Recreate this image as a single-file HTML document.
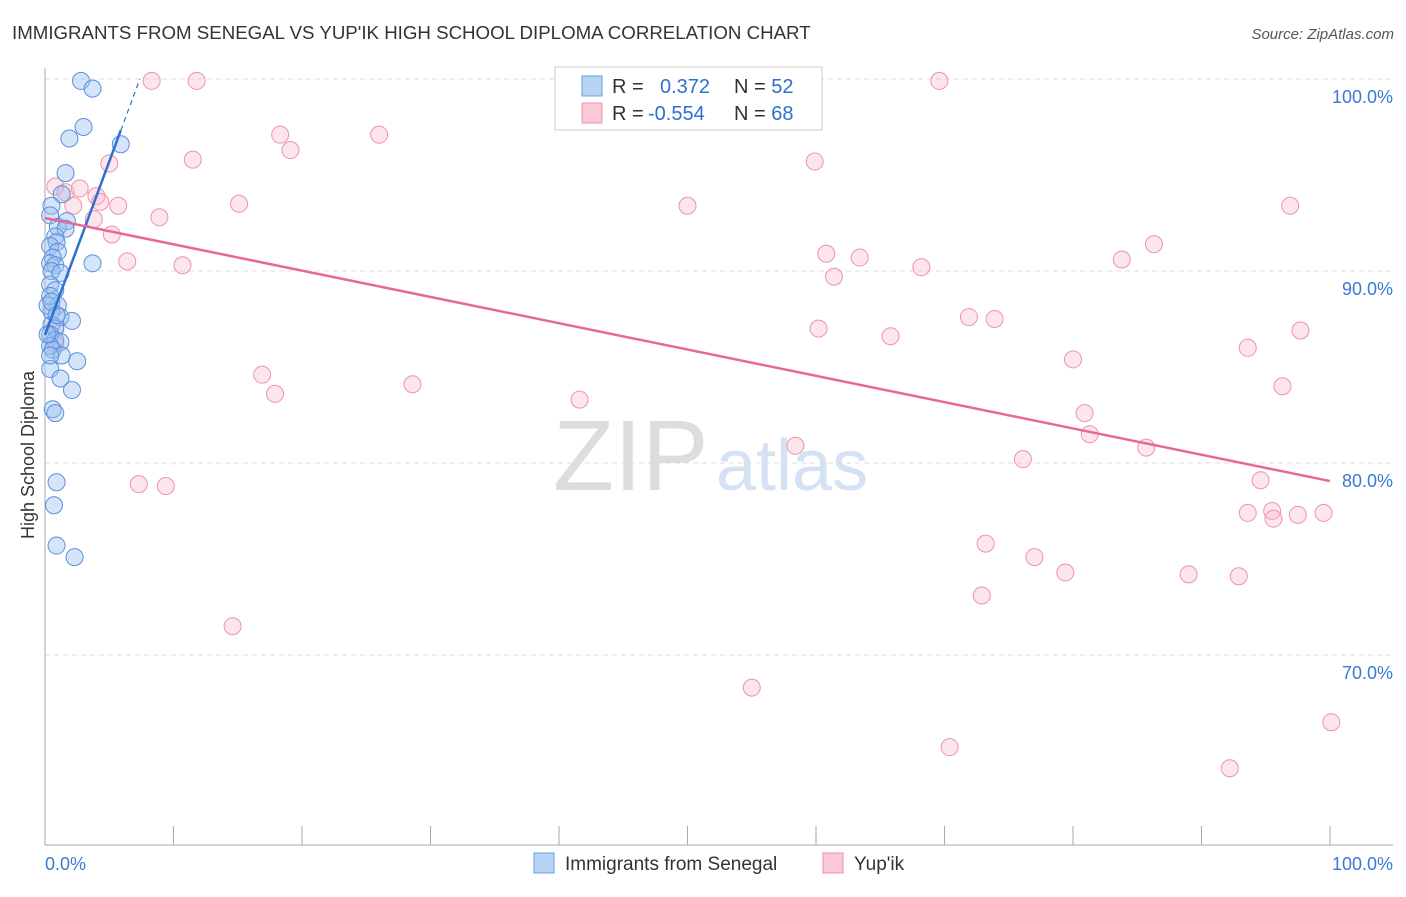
<!DOCTYPE html>
<html><head><meta charset="utf-8"><style>
body{margin:0;background:#fff;font-family:"Liberation Sans",sans-serif;}
svg text{font-family:"Liberation Sans",sans-serif;}
</style></head><body>
<svg width="1406" height="892" xmlns="http://www.w3.org/2000/svg" id="chart">
<text x="12" y="39" font-size="18.7" fill="#333">IMMIGRANTS FROM SENEGAL VS YUP'IK HIGH SCHOOL DIPLOMA CORRELATION CHART</text>
<text x="1394" y="39" font-size="15" fill="#555" text-anchor="end" font-style="italic">Source: ZipAtlas.com</text>
<text x="553" y="490" font-size="100" fill="#ddd" font-family="Liberation Serif">ZIP</text>
<text x="716" y="490" font-size="72" fill="#d4e2f4">atlas</text>
<text transform="translate(34,455) rotate(-90)" font-size="18" fill="#333" text-anchor="middle">High School Diploma</text>
<g id="grid"></g><g id="pts"></g><g id="lines"></g>
<g>
<rect x="555" y="67" width="267" height="63" fill="#fff" stroke="#ccc"/>
<rect x="582" y="76" width="20" height="20" fill="#b8d3f5" stroke="#6a9de0"/>
<rect x="582" y="103" width="20" height="20" fill="#fbc8d6" stroke="#ee93ad"/>
<text x="612" y="93" font-size="20" fill="#333">R = <tspan fill="#2f6fd1" x="660">0.372</tspan><tspan x="734" fill="#333">N = </tspan><tspan fill="#2f6fd1">52</tspan></text>
<text x="612" y="120" font-size="20" fill="#333">R = <tspan fill="#2f6fd1" x="648">-0.554</tspan><tspan x="734" fill="#333">N = </tspan><tspan fill="#2f6fd1">68</tspan></text>
</g>
<g>
<rect x="534" y="853" width="20" height="20" fill="#b8d3f5" stroke="#6a9de0"/>
<text x="565" y="870" font-size="19" fill="#333">Immigrants from Senegal</text>
<rect x="823" y="853" width="20" height="20" fill="#fbc8d6" stroke="#ee93ad"/>
<text x="854" y="870" font-size="19" fill="#333">Yup'ik</text>
</g>
</svg>
<script>
const xTicks=[0,10,20,30,40,50,60,70,80,90,100];
const yTicks=[100,90,80,70];
const yTickLabels=["100.0%","90.0%","80.0%","70.0%"];
const senegalX=[2.8,3.7,3.0,1.9,5.9,1.6,1.3,0.5,0.4,1.7,1.0,1.6,0.8,0.9,0.4,1.0,0.6,0.4,0.8,0.5,1.2,3.7,0.4,0.8,1.0,0.5,1.2,2.1,0.5,0.8,0.4,0.8,1.2,0.4,0.6,1.3,2.5,0.4,1.2,2.1,0.6,0.8,0.9,0.7,0.9,2.3,0.4,0.2,0.4,0.2,0.5,0.9];
const senegalY=[99.9,99.5,97.5,96.9,96.6,95.1,94.0,93.4,92.9,92.6,92.3,92.2,91.8,91.5,91.3,91.0,90.7,90.4,90.3,90.0,89.9,90.4,89.3,89.0,88.2,87.9,87.6,87.4,87.2,87.0,86.7,86.4,86.3,86.1,85.9,85.6,85.3,84.9,84.4,83.8,82.8,82.6,79.0,77.8,75.7,75.1,88.7,88.2,85.6,86.7,88.4,87.7];
const yupikX=[8.3,11.8,69.6,5.0,11.5,18.3,19.1,26.0,59.9,0.8,1.6,2.7,4.0,2.2,4.3,5.7,3.8,5.2,8.9,15.1,50.0,96.9,6.4,10.7,60.8,61.4,63.4,68.2,83.8,86.3,60.2,65.8,71.9,73.9,97.7,93.6,80.0,16.9,17.9,28.6,41.6,96.3,80.9,81.3,85.7,58.4,76.1,94.6,7.3,9.4,93.6,95.5,95.6,97.5,99.5,73.2,77.0,79.4,89.0,92.9,72.9,14.6,55.0,70.4,100.1,92.2,0.8,0.8];
const yupikY=[99.9,99.9,99.9,95.6,95.8,97.1,96.3,97.1,95.7,94.4,94.1,94.3,93.9,93.4,93.6,93.4,92.7,91.9,92.8,93.5,93.4,93.4,90.5,90.3,90.9,89.7,90.7,90.2,90.6,91.4,87.0,86.6,87.6,87.5,86.9,86.0,85.4,84.6,83.6,84.1,83.3,84.0,82.6,81.5,80.8,80.9,80.2,79.1,78.9,78.8,77.4,77.5,77.1,77.3,77.4,75.8,75.1,74.3,74.2,74.1,73.1,71.5,68.3,65.2,66.5,64.1,87.1,86.2];
const senegalTrend=[86.67,1.806];
const yupikTrend=[92.76,-0.137];
const NS="http://www.w3.org/2000/svg";
const X=v=>45+v*12.85, Y=v=>79+(100-v)*19.2;
function mk(t,a,p){const e=document.createElementNS(NS,t);for(const k in a)e.setAttribute(k,a[k]);document.getElementById(p).appendChild(e);return e;}
yTicks.forEach((t,i)=>{
 const g=mk('line',{x1:45,x2:1393,y1:Y(t),y2:Y(t),stroke:'#ddd','stroke-dasharray':'5,4'},'grid');
 
 
 const l=mk('text',{x:1393,y:Y(t)+24,'font-size':18,fill:'#3c78d8','text-anchor':'end'},'grid');l.textContent=yTickLabels[i];
 
 
});
const ax=mk('line',{x1:45,x2:45,y1:68,y2:845,stroke:'#aaa'},'grid');


const bx=mk('line',{x1:45,x2:1393,y1:845,y2:845,stroke:'#aaa'},'grid');


xTicks.forEach(t=>{const k=mk('line',{x1:X(t),x2:X(t),y1:826,y2:845,stroke:'#aaa'},'grid');
 
 });
const x0=mk('text',{x:45,y:870,'font-size':18,fill:'#3c78d8'},'grid');x0.textContent='0.0%';


const x1=mk('text',{x:1393,y:870,'font-size':18,fill:'#3c78d8','text-anchor':'end'},'grid');x1.textContent='100.0%';


yupikX.forEach((v,i)=>{const c=mk('circle',{cx:X(v),cy:Y(yupikY[i]),r:8.5,fill:'rgba(248,180,200,0.35)',stroke:'#ee93ad','stroke-width':1},'pts');
 
 });
senegalX.forEach((v,i)=>{const c=mk('circle',{cx:X(v),cy:Y(senegalY[i]),r:8.5,fill:'rgba(150,190,240,0.4)',stroke:'#5b8fdc','stroke-width':1},'pts');
 
 });
const xs=(100-senegalTrend[0])/senegalTrend[1];
const bs=mk('line',{x1:X(0),y1:Y(senegalTrend[0]),x2:X(5.9),y2:Y(senegalTrend[0]+senegalTrend[1]*5.9),stroke:'#2f6fd1','stroke-width':2.5},'lines');


const bd=mk('line',{x1:X(5.9),y1:Y(senegalTrend[0]+senegalTrend[1]*5.9),x2:X(xs),y2:Y(100),stroke:'#2f6fd1','stroke-width':1.2,'stroke-dasharray':'5,4'},'lines');


const pl=mk('line',{x1:X(0),y1:Y(yupikTrend[0]),x2:X(100),y2:Y(yupikTrend[0]+yupikTrend[1]*100),stroke:'#e8679a','stroke-width':2.5},'lines');


</script>
</body></html>
